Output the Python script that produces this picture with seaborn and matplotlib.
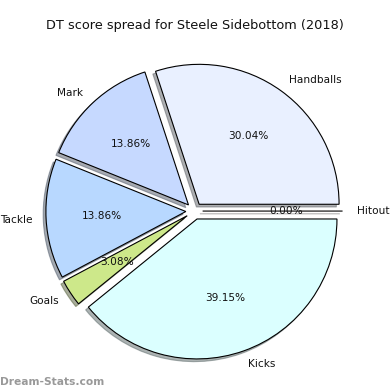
import matplotlib
matplotlib.use("Agg")
import matplotlib.pyplot as plt
import seaborn as sns

labels = ['Handballs', 'Mark', 'Tackle', 'Goals', 'Kicks', 'Hitout']
shares = [30.04, 13.86, 13.86, 3.08, 39.15, 0.0]
colours = ['#e9f0ff', '#c6d9ff', '#b8d8ff', '#cde88a', '#dbffff', '#ffffff']

sns.set_style("white")
plt.rcParams['font.family'] = ['DejaVu Sans']

fig = plt.figure(figsize=(3.9, 3.9), dpi=100)
# pie is drawn in a square axes so the radius comes out ~140 px
ax = fig.add_axes([0.0495, 0.0103, 0.897, 0.897])

explode = [0.06] * len(shares)
wedges, texts, autotexts = ax.pie(
    shares, labels=labels, colors=colours, explode=explode,
    shadow={'ox': -0.014, 'oy': -0.014, 'shade': 0.6},
    autopct='%1.2f%%', startangle=0, counterclock=True,
    wedgeprops={'edgecolor': 'black', 'linewidth': 0.8},
    textprops={'fontsize': 7.6, 'color': '#111111'})
ax.set_aspect('equal')

fig.suptitle('DT score spread for Steele Sidebottom (2018)', fontsize=9.3,
             y=0.95, color='#111111')
fig.text(0.0, 0.008, 'Dream-Stats.com', fontsize=7.7, color='#999999',
         ha='left', va='bottom', fontweight='bold')

fig.savefig('out.png', dpi=100)
